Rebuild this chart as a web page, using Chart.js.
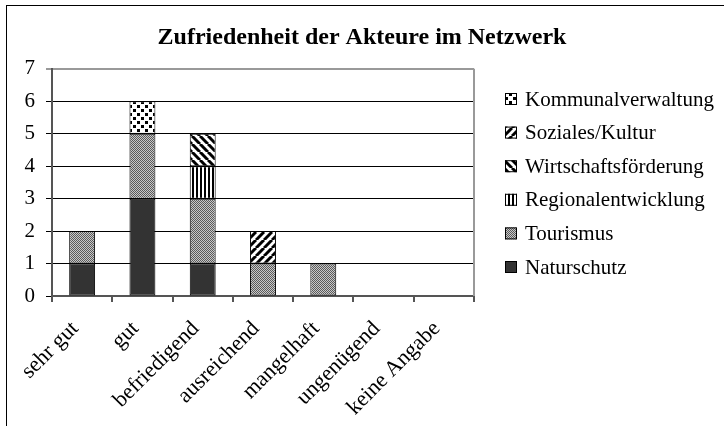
<!DOCTYPE html>
<html>
<head>
<meta charset="utf-8">
<script src="https://cdn.jsdelivr.net/npm/chart.js@4"></script>
<style>
  html, body { margin: 0; padding: 0; background: #fff; }
  #wrap { position: relative; width: 724px; height: 426px; overflow: hidden; }
  #frame { position: absolute; left: 6px; top: 5px; width: 760px; height: 460px;
           border-top: 1.5px solid #000; border-left: 1.5px solid #000; pointer-events: none; }
</style>
</head>
<body>
<div id="wrap">
  <canvas id="satisfactionChart" width="724" height="426"></canvas>
  <div id="frame"></div>
</div>
<script>
const categories = ["sehr gut", "gut", "befriedigend", "ausreichend", "mangelhaft", "ungenügend", "keine Angabe"];

const naturschutz = [1, 3, 1, 0, 0, 0, 0];
const tourismus = [1, 2, 2, 1, 1, 0, 0];
const regionalentwicklung = [0, 0, 1, 0, 0, 0, 0];
const wirtschaftsfoerderung = [0, 0, 1, 0, 0, 0, 0];
const sozialesKultur = [0, 0, 0, 1, 0, 0, 0];
const kommunalverwaltung = [0, 1, 0, 0, 0, 0, 0];

const yTicks = [0, 1, 2, 3, 4, 5, 6, 7];

const FONT = "'Liberation Serif', 'Times New Roman', serif";

// fill patterns like the old office hatches
function makePattern(size, draw) {
  const c = document.createElement("canvas");
  c.width = size;
  c.height = size;
  const g = c.getContext("2d");
  g.fillStyle = "#fff";
  g.fillRect(0, 0, size, size);
  draw(g, size);
  return c.getContext("2d").createPattern(c, "repeat");
}

const ctx = document.getElementById("satisfactionChart").getContext("2d");

const dotted = makePattern(8, (g) => {
  g.fillStyle = "#000";
  g.fillRect(1, 1, 3, 3);
  g.fillRect(5, 5, 3, 3);
});
const fineGrey = makePattern(2, (g) => {
  g.fillStyle = "#5a5a5a";
  g.fillRect(0, 0, 1, 1);
  g.fillRect(1, 1, 1, 1);
  g.fillStyle = "#c8c8c8";
  g.fillRect(1, 0, 1, 1);
  g.fillRect(0, 1, 1, 1);
});
const vertical = makePattern(4, (g) => {
  g.fillStyle = "#000";
  g.fillRect(0, 0, 2, 4);
});
const backslash = makePattern(8, (g, s) => {
  g.strokeStyle = "#000";
  g.lineWidth = 3;
  for (const k of [-s, 0, s]) {
    g.beginPath();
    g.moveTo(k, 0);
    g.lineTo(k + s, s);
    g.stroke();
  }
});
const slash = makePattern(8, (g, s) => {
  g.strokeStyle = "#000";
  g.lineWidth = 3;
  for (const k of [-s, 0, s]) {
    g.beginPath();
    g.moveTo(k, s);
    g.lineTo(k + s, 0);
    g.stroke();
  }
});

const bar = (label, values, fill) => ({
  label: label,
  data: values,
  backgroundColor: fill,
  borderColor: "#000",
  borderWidth: (c) => (c.raw ? 1 : 0),
  borderSkipped: false,
  categoryPercentage: 1,
  barPercentage: 0.43,
});

const data = {
  labels: categories,
  datasets: [
    bar("Naturschutz", naturschutz, "#333333"),
    bar("Tourismus", tourismus, fineGrey),
    bar("Regionalentwicklung", regionalentwicklung, vertical),
    bar("Wirtschaftsförderung", wirtschaftsfoerderung, backslash),
    bar("Soziales/Kultur", sozialesKultur, slash),
    bar("Kommunalverwaltung", kommunalverwaltung, dotted),
  ],
};

// grey frame on the right of the plot area
const plotBorder = {
  id: "plotBorder",
  beforeDatasetsDraw(chart) {
    const { ctx, chartArea } = chart;
    ctx.save();
    ctx.strokeStyle = "#999";
    ctx.lineWidth = 2;
    ctx.beginPath();
    ctx.moveTo(chartArea.right, chartArea.top);
    ctx.lineTo(chartArea.right, chartArea.bottom);
    ctx.stroke();
    ctx.restore();
  },
};

// legend on the right, newest series on top
const sideLegend = {
  id: "sideLegend",
  afterDraw(chart) {
    const { ctx, chartArea } = chart;
    const x = chartArea.right + 31;
    let y = 99;
    ctx.save();
    ctx.font = "21px " + FONT;
    ctx.textBaseline = "middle";
    ctx.textAlign = "left";
    chart.data.datasets.slice().reverse().forEach((ds) => {
      ctx.fillStyle = ds.backgroundColor;
      ctx.fillRect(x, y - 6, 12, 12);
      ctx.strokeStyle = "#000";
      ctx.lineWidth = 1;
      ctx.strokeRect(x + 0.5, y - 5.5, 11, 11);
      ctx.fillStyle = "#000";
      ctx.fillText(ds.label, x + 20, y + 1);
      y += 33.6;
    });
    ctx.restore();
  },
};

const options = {
  responsive: false,
  animation: false,
  layout: {
    padding: 0,
  },
  scales: {
    x: {
      stacked: true,
      grid: {
        offset: true,
        drawOnChartArea: false,
        tickLength: 6,
        color: "#555",
        lineWidth: 2,
      },
      border: { color: "#555", width: 2 },
      ticks: {
        color: "#000",
        font: { family: FONT, size: 22 },
        minRotation: 45,
        maxRotation: 45,
        padding: 14,
        labelOffset: -7,
      },
      afterFit: (scale) => {
        scale.height = 130;
      },
    },
    y: {
      stacked: true,
      min: yTicks[0],
      max: yTicks[yTicks.length - 1],
      afterBuildTicks: (scale) => {
        scale.ticks = yTicks.map((v) => ({ value: v }));
      },
      grid: {
        color: (c) => (c.tick && c.tick.value === 7 ? "#999" : "#000"),
        lineWidth: (c) => (c.tick && c.tick.value === 7 ? 2 : 1),
        tickLength: 6,
      },
      border: { color: "#555", width: 2 },
      ticks: {
        color: "#000",
        font: { family: FONT, size: 21 },
        padding: 11,
      },
      afterFit: (scale) => {
        scale.width = 52;
      },
    },
    // empty axis that keeps room for the legend on the right
    legendSpace: {
      type: "linear",
      position: "right",
      display: true,
      grid: { display: false },
      ticks: { display: false },
      border: { display: false },
      afterFit: (scale) => {
        scale.width = 250;
      },
    },
  },
  plugins: {
    legend: { display: false },
    tooltip: { enabled: false },
    title: {
      display: true,
      text: "Zufriedenheit der Akteure im Netzwerk",
      color: "#000",
      font: { family: FONT, size: 24, weight: "bold" },
      padding: { top: 23, bottom: 17 },
    },
  },
};

new Chart(ctx, {
  type: "bar",
  data: data,
  options: options,
  plugins: [plotBorder, sideLegend],
});
</script>
</body>
</html>
